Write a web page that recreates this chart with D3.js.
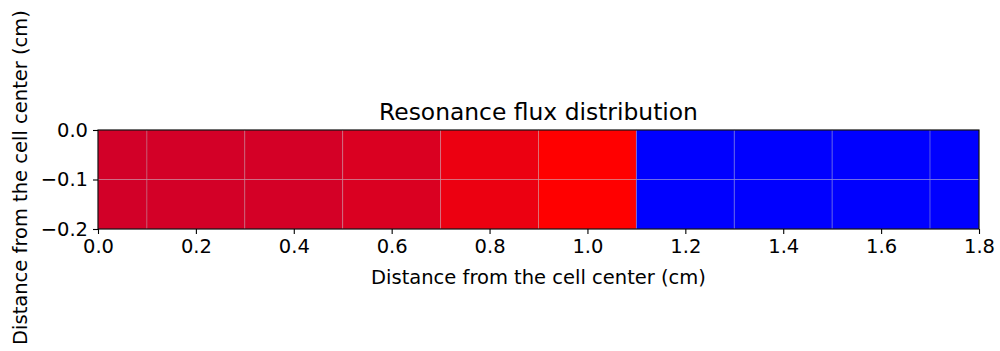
<!DOCTYPE html>
<html>
<head>
<meta charset="utf-8">
<script src="https://cdn.jsdelivr.net/npm/d3@7"></script>
<style>
  html, body { margin: 0; padding: 0; background: #fff; }
  svg { display: block; font-family: "DejaVu Sans", sans-serif; }
</style>
</head>
<body>
<svg id="chart" width="1000" height="351"></svg>
<script>
// Cell centres along the radius (cm) and across the strip (cm)
const xCenters = [0.0, 0.2, 0.4, 0.6, 0.8, 1.0, 1.2, 1.4, 1.6, 1.8];
const yCenters = [-0.2, 0.0];
// Material of each radial cell
const regions = ["fuel", "fuel", "fuel", "fuel", "fuel", "fuel",
                 "moderator", "moderator", "moderator", "moderator"];
// Relative resonance flux in each radial cell
const flux = [0.804, 0.806, 0.809, 0.821, 0.860, 0.900, 1.0, 1.0, 1.0, 1.0];
// Tick labels
const xTicks = [0.0, 0.2, 0.4, 0.6, 0.8, 1.0, 1.2, 1.4, 1.6, 1.8];
const yTicks = [0.0, -0.1, -0.2];

const svg = d3.select("#chart");
const mLeft = 98, mRight = 979, mTop = 130, mBottom = 229;

const x = d3.scaleLinear().domain([0, 1.8]).range([mLeft, mRight]);
const y = d3.scaleLinear().domain([-0.2, 0]).range([mBottom, mTop]);

const fuelColor = d3.scaleLinear().domain([0.80, 0.90])
  .range(["#d0002a", "#ff0000"]).clamp(true);
const cellColor = (i) => regions[i] === "moderator" ? "#0000ff" : fuelColor(flux[i]);

// Cell edges halfway between centres, clipped to the axes range
function edges(c, lo, hi) {
  const e = [lo];
  for (let i = 1; i < c.length; i++) e.push((c[i - 1] + c[i]) / 2);
  e.push(hi);
  return e;
}
const xe = edges(xCenters, 0, 1.8);
const ye = edges(yCenters, -0.2, 0);

const cells = [];
yCenters.forEach((yc, j) => {
  xCenters.forEach((xc, i) => {
    cells.push({ i, x0: xe[i], x1: xe[i + 1], y0: ye[j], y1: ye[j + 1] });
  });
});

svg.append("g").selectAll("rect").data(cells).join("rect")
  .attr("x", d => x(d.x0))
  .attr("y", d => y(d.y1))
  .attr("width", d => x(d.x1) - x(d.x0))
  .attr("height", d => y(d.y0) - y(d.y1))
  .attr("fill", d => cellColor(d.i))
  .attr("stroke", "rgba(190,190,200,0.35)")
  .attr("stroke-width", 0.9);

// Axes
const fmt = d => d3.format(".1f")(d).replace("-", "\u2212");
const xAxis = d3.axisBottom(x).tickValues(xTicks).tickSize(5).tickPadding(5).tickFormat(fmt);
const yAxis = d3.axisLeft(y).tickValues(yTicks).tickSize(5).tickPadding(5).tickFormat(fmt);

const gx = svg.append("g").attr("transform", `translate(0,${mBottom})`).call(xAxis);
const gy = svg.append("g").attr("transform", `translate(${mLeft},0)`).call(yAxis);
[gx, gy].forEach(g => {
  g.select(".domain").remove();
  g.selectAll("text").attr("font-size", 19.5).attr("fill", "#000")
    .attr("font-family", "DejaVu Sans, sans-serif");
  g.selectAll("line").attr("stroke", "#000").attr("stroke-width", 1.1);
});

// Frame
svg.append("rect")
  .attr("x", mLeft).attr("y", mTop)
  .attr("width", mRight - mLeft).attr("height", mBottom - mTop)
  .attr("fill", "none").attr("stroke", "#000").attr("stroke-width", 1.1);

// Title and axis labels
svg.append("text").attr("x", (mLeft + mRight) / 2).attr("y", 120)
  .attr("text-anchor", "middle").attr("font-size", 23.4)
  .text("Resonance flux distribution");

svg.append("text").attr("x", (mLeft + mRight) / 2).attr("y", 284)
  .attr("text-anchor", "middle").attr("font-size", 19.5)
  .text("Distance from the cell center (cm)");

svg.append("text")
  .attr("transform", `translate(27,${(mTop + mBottom) / 2 - 2}) rotate(-90)`)
  .attr("text-anchor", "middle").attr("font-size", 19.5)
  .text("Distance from the cell center (cm)");
</script>
</body>
</html>
